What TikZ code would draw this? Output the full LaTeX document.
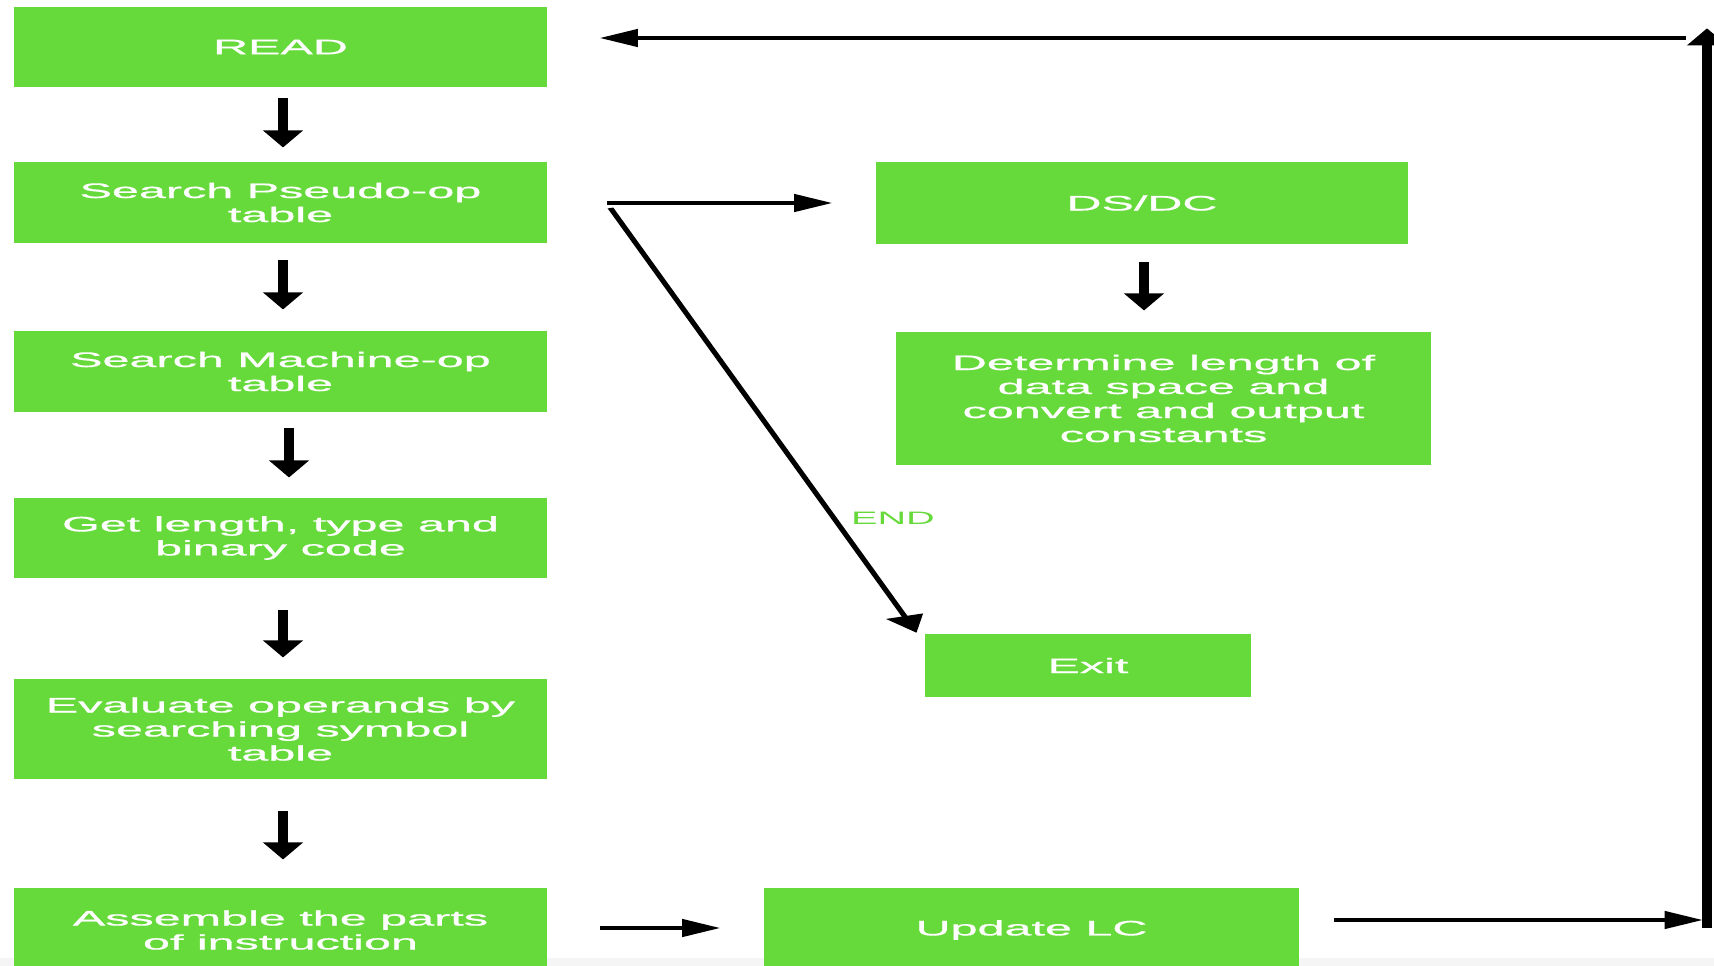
\documentclass[tikz,border=0pt]{standalone}
\usepackage{fontspec}
\setmainfont{Liberation Sans}
\newfontfamily\boxfont[FakeBold=0.6,FakeStretch=1.05]{Liberation Sans}
\usetikzlibrary{arrows.meta,calc}
\definecolor{boxgreen}{RGB}{102,217,59}
\begin{document}
\begin{tikzpicture}[x=1pt,y=-1pt]
\useasboundingbox (0,0) rectangle (1714,966);
\fill[black!4] (0,958) rectangle (1714,966);
\begin{scope}[transform canvas={xscale=2.2}, x=0.454545pt, y=-1pt,
  box/.style={fill=boxgreen, text=white, inner sep=0pt, align=center,
    font=\boxfont\fontsize{21}{24}\selectfont},
  arr/.style={line width=4.7pt, -{Triangle[length=17.5pt,width=17pt]}},
  lbl/.style={text=boxgreen, inner sep=0pt, font=\fontsize{18}{20}\selectfont}]
  % left column
  \node[box, minimum width=242.3pt, minimum height=80pt] (read)   at (280.5,47)    {READ};
  \node[box, minimum width=242.3pt, minimum height=81pt] (pseudo) at (280.5,202.5) {Search Pseudo-op\\table};
  \node[box, minimum width=242.3pt, minimum height=81pt] (mach)   at (280.5,371.5) {Search Machine-op\\table};
  \node[box, minimum width=242.3pt, minimum height=80pt] (getl)   at (280.5,538)   {Get length, type and\\binary code};
  \node[box, minimum width=242.3pt, minimum height=100pt] (eval)  at (280.5,729)   {Evaluate operands by\\searching symbol\\table};
  \node[box, minimum width=242.3pt, minimum height=84pt] (asm)    at (280.5,930)   {Assemble the parts\\of instruction};
  % right side
  \node[box, minimum width=241.8pt, minimum height=82pt] (ds)     at (1142,203)    {DS/DC};
  \node[box, minimum width=243.2pt, minimum height=133pt] (det)   at (1163.5,398.5) {Determine length of\\data space and\\convert and output\\constants};
  \node[box, minimum width=148.2pt, minimum height=63pt] (exit)   at (1088,665.5)  {Exit};
  \node[box, minimum width=243.2pt, minimum height=84pt] (upd)    at (1031.5,930)  {Update LC};
  \node[lbl] (endlbl) at (893,518) {END};
  % free ends of the loop
  \coordinate (r1) at (1703,920);
  \coordinate (r2) at (1707,928);
  \coordinate (r3) at (1707,28);
  \coordinate (r4) at (1686,38);
  % vertical flow
  \draw[arr] ($(read.south)+(2.5,11)$)   -- ($(pseudo.north)+(2.5,-14)$);
  \draw[arr] ($(pseudo.south)+(2.5,17)$) -- ($(mach.north)+(2.5,-21)$);
  \draw[arr] ($(mach.south)+(8.5,16)$)   -- ($(getl.north)+(8.5,-20)$);
  \draw[arr] ($(getl.south)+(2.5,32)$)   -- ($(eval.north)+(2.5,-21)$);
  \draw[arr] ($(eval.south)+(2.5,32)$)   -- ($(asm.north)+(2.5,-28)$);
  \draw[arr] ($(ds.south)+(2,18)$)       -- ($(det.north)+(-19.5,-21)$);
  % branches
  \draw[arr] ($(pseudo.east)+(60,0.5)$)  -- ($(ds.west)+(-43,0)$);
  \draw[arr, line width=2.7pt] ($(pseudo.east)+(63,5.5)$) -- ($(exit.north west)+(-8,-1)$);
  \draw[arr] ($(asm.east)+(53,-2)$)      -- ($(upd.west)+(-43,-2)$);
  % loop back
  \draw[arr] ($(upd.east)+(35,-10)$) -- (r1);
  \draw[arr] (r2) -- (r3);
  \draw[arr] (r4) -- ($(read.east)+(52,-9)$);
\end{scope}
\end{tikzpicture}
\end{document}
